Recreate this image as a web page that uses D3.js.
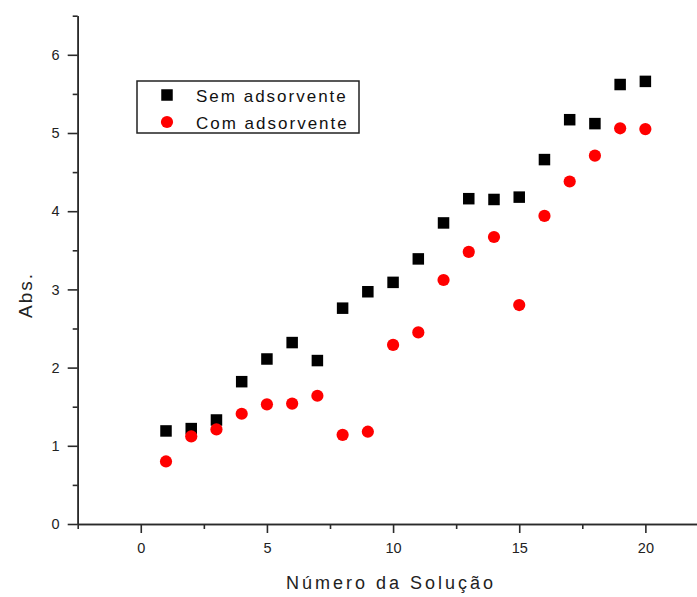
<!DOCTYPE html>
<html>
<head>
<meta charset="utf-8">
<script src="https://cdn.jsdelivr.net/npm/d3@7"></script>
<style>
  html, body { margin: 0; padding: 0; background: #fff; }
  svg { display: block; font-family: "Liberation Sans", Arial, sans-serif; }
</style>
</head>
<body>
<svg id="chart" width="697" height="597"></svg>
<script>
// Data
const solutions = [1,2,3,4,5,6,7,8,9,10,11,12,13,14,15,16,17,18,19,20];
const semAdsorvente = [1.19,1.22,1.33,1.82,2.11,2.32,2.09,2.76,2.97,3.09,3.39,3.85,4.16,4.15,4.18,4.66,5.17,5.12,5.62,5.66];
const comAdsorvente = [0.80,1.12,1.21,1.41,1.53,1.54,1.64,1.14,1.18,2.29,2.45,3.12,3.48,3.67,2.80,3.94,4.38,4.71,5.06,5.05];
const xMajorTicks = [0,5,10,15,20];
const xMinorTicks = [-2.5,2.5,7.5,12.5,17.5,22.5];
const yMajorTicks = [0,1,2,3,4,5,6];
const yMinorTicks = [0.5,1.5,2.5,3.5,4.5,5.5,6.5];
const seriesNames = ["Sem adsorvente","Com adsorvente"];

const svg = d3.select("#chart");
const axisColor = "#2a2a2a";

const x = d3.scaleLinear().domain([-2.5, 22.5]).range([77.7, 77.7 + 25 * 25.23]);
const y = d3.scaleLinear().domain([0, 6.5]).range([524, 524 - 6.5 * 78.2]);

function styleAxis(g) {
  g.selectAll("path.domain").attr("stroke", axisColor).attr("stroke-width", 1.6);
  g.selectAll(".tick line").attr("stroke", axisColor).attr("stroke-width", 1.6);
  g.selectAll(".tick text").attr("fill", "#222").style("font-size", "14.5px")
    .style("font-family", "'Liberation Sans', Arial, sans-serif");
}

// X axis
const gxMinor = svg.append("g").attr("transform", `translate(0,${y(0)})`)
  .call(d3.axisBottom(x).tickValues(xMinorTicks).tickSize(5).tickSizeOuter(0).tickFormat(""));
styleAxis(gxMinor);
const gx = svg.append("g").attr("transform", `translate(0,${y(0)})`)
  .call(d3.axisBottom(x).tickValues(xMajorTicks).tickSize(9).tickPadding(10).tickSizeOuter(0).tickFormat(d3.format("d")));
styleAxis(gx);

// Y axis
const gyMinor = svg.append("g").attr("transform", `translate(${x(-2.5)},0)`)
  .call(d3.axisLeft(y).tickValues(yMinorTicks).tickSize(5).tickSizeOuter(0).tickFormat(""));
styleAxis(gyMinor);
const gy = svg.append("g").attr("transform", `translate(${x(-2.5)},0)`)
  .call(d3.axisLeft(y).tickValues(yMajorTicks).tickSize(10).tickPadding(8).tickSizeOuter(0).tickFormat(d3.format("d")));
styleAxis(gy);

// Axis titles
svg.append("text")
  .attr("x", 391).attr("y", 589)
  .attr("text-anchor", "middle")
  .style("font-size", "18px").style("letter-spacing", "3px")
  .attr("fill", "#222")
  .text("Número da Solução");

svg.append("text")
  .attr("transform", "translate(32,295) rotate(-90)")
  .attr("text-anchor", "middle")
  .style("font-size", "19px").style("letter-spacing", "2px")
  .attr("fill", "#222")
  .text("Abs.");

// Points
const sq = 11.5;
svg.append("g").selectAll("rect")
  .data(solutions.map((s, i) => [s, semAdsorvente[i]]))
  .join("rect")
  .attr("x", d => x(d[0]) - sq / 2)
  .attr("y", d => y(d[1]) - sq / 2)
  .attr("width", sq).attr("height", sq)
  .attr("fill", "#000");

svg.append("g").selectAll("circle")
  .data(solutions.map((s, i) => [s, comAdsorvente[i]]))
  .join("circle")
  .attr("cx", d => x(d[0]))
  .attr("cy", d => y(d[1]))
  .attr("r", 6.1)
  .attr("fill", "#ff0000");

// Legend
const lg = svg.append("g");
lg.append("rect")
  .attr("x", 137).attr("y", 81).attr("width", 222).attr("height", 52)
  .attr("fill", "#fff").attr("stroke", "#222").attr("stroke-width", 1.5);
lg.append("rect")
  .attr("x", 167 - sq / 2).attr("y", 95 - sq / 2).attr("width", sq).attr("height", sq)
  .attr("fill", "#000");
lg.append("circle").attr("cx", 167).attr("cy", 122).attr("r", 6.1).attr("fill", "#ff0000");
seriesNames.forEach((name, i) => {
  lg.append("text")
    .attr("x", 196).attr("y", 102 + i * 26.5)
    .style("font-size", "17px").style("letter-spacing", "2px")
    .attr("fill", "#111")
    .text(name);
});
</script>
</body>
</html>
